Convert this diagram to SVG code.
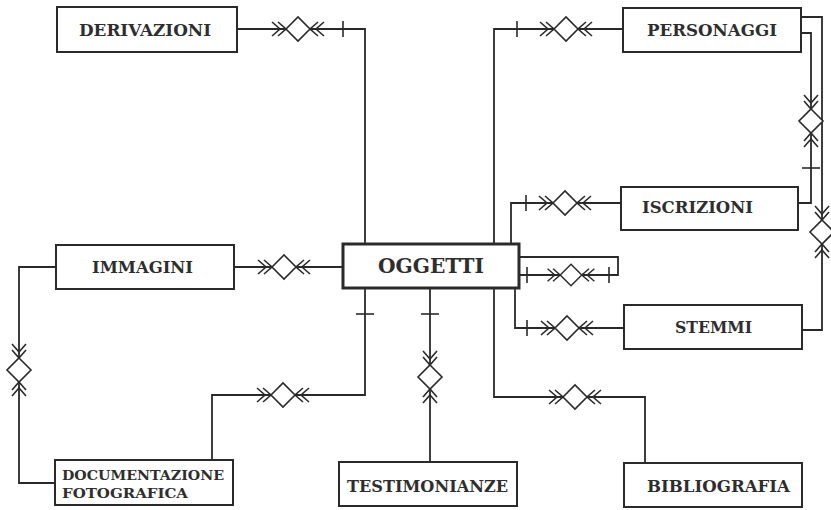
<svg xmlns="http://www.w3.org/2000/svg" xmlns:xlink="http://www.w3.org/1999/xlink" width="831" height="510" viewBox="0 0 831 510">
<style>
.box{fill:#fff;stroke:#2a2a2a;stroke-width:2}
.main{fill:#fff;stroke:#2a2a2a;stroke-width:3}
.lbl{font-family:"DejaVu Serif","Liberation Serif",serif;font-weight:bold;font-size:16px;fill:#2e2e2e}
.conn path{fill:none;stroke:#2a2a2a;stroke-width:1.8}
.sym{fill:none;stroke:#2a2a2a;stroke-width:1.6}
.dia{fill:#fff;stroke:#2a2a2a;stroke-width:1.6}
</style>
<defs>
<g id="rel">
<path class="sym" d="M-20,-7 L-12,0 L-20,7 M-26,-7 L-18,0 L-26,7 M20,-7 L12,0 L20,7 M26,-7 L18,0 L26,7"/>
<path class="dia" d="M-12,0 L0,-12 L12,0 L0,12 Z"/>
</g>
<path id="tv" class="sym" d="M0,-8 V8"/>
<path id="th" class="sym" d="M-9,0 H9"/>
</defs>
<rect width="831" height="510" fill="#fff"/>
<g class="conn" id="connectors">
<path d="M237,29 H365 V244"/>
<path d="M623,29 H494 V244"/>
<path d="M621,203 H511 V244"/>
<path d="M515,288 V328 H624"/>
<path d="M519,257 H618 V275 H519"/>
<path d="M234,267 H343"/>
<path d="M56,267 H19 V483 H55"/>
<path d="M212,460 V395 H365 V288"/>
<path d="M430,288 V462"/>
<path d="M801,33 H811 V203 H798"/>
<path d="M801,17 H822 V330 H802"/>
<path d="M494,288 V397 H645 V463"/>
<use href="#rel" transform="translate(298,29)"/>
<use href="#rel" transform="translate(566,29)"/>
<use href="#rel" transform="translate(565,203)"/>
<use href="#rel" transform="translate(567,328)"/>
<use href="#rel" transform="translate(571,275) scale(0.9)"/>
<use href="#rel" transform="translate(284,267)"/>
<use href="#rel" transform="translate(19,370) rotate(90)"/>
<use href="#rel" transform="translate(283,395)"/>
<use href="#rel" transform="translate(430,377) rotate(90)"/>
<use href="#rel" transform="translate(811,121) rotate(90)"/>
<use href="#rel" transform="translate(822,232) rotate(90)"/>
<use href="#rel" transform="translate(575,397)"/>
<use href="#tv" transform="translate(343,29)"/>
<use href="#tv" transform="translate(517,29)"/>
<use href="#tv" transform="translate(526,203)"/>
<use href="#tv" transform="translate(527,328)"/>
<use href="#tv" transform="translate(527,275)"/>
<use href="#tv" transform="translate(609,275)"/>
<use href="#th" transform="translate(365,314)"/>
<use href="#th" transform="translate(430,314)"/>
<use href="#th" transform="translate(811,168)"/>
</g>
<g id="derivazioni"><rect class="box" x="57" y="7" width="180" height="45"/><text class="lbl" x="79" y="36" textLength="132" lengthAdjust="spacingAndGlyphs">DERIVAZIONI</text></g>
<g id="personaggi"><rect class="box" x="623" y="8" width="178" height="44"/><text class="lbl" x="647" y="36" textLength="130" lengthAdjust="spacingAndGlyphs">PERSONAGGI</text></g>
<g id="iscrizioni"><rect class="box" x="621" y="187" width="177" height="43"/><text class="lbl" x="642" y="213" textLength="111" lengthAdjust="spacingAndGlyphs">ISCRIZIONI</text></g>
<g id="oggetti"><rect class="main" x="343" y="244" width="176" height="44"/><text class="lbl" x="378" y="273" style="font-size:21px" textLength="106" lengthAdjust="spacingAndGlyphs">OGGETTI</text></g>
<g id="stemmi"><rect class="box" x="624" y="305" width="178" height="44"/><text class="lbl" x="675" y="333" textLength="77" lengthAdjust="spacingAndGlyphs">STEMMI</text></g>
<g id="immagini"><rect class="box" x="56" y="245" width="178" height="44"/><text class="lbl" x="92" y="273" textLength="101" lengthAdjust="spacingAndGlyphs">IMMAGINI</text></g>
<g id="documentazione"><rect class="box" x="55" y="460" width="178" height="45"/><text class="lbl" x="62" y="480" style="font-size:13.5px" textLength="162" lengthAdjust="spacingAndGlyphs">DOCUMENTAZIONE</text><text class="lbl" x="62" y="498" style="font-size:13.5px" textLength="126" lengthAdjust="spacingAndGlyphs">FOTOGRAFICA</text></g>
<g id="testimonianze"><rect class="box" x="339" y="462" width="178" height="44"/><text class="lbl" x="347" y="492" textLength="161" lengthAdjust="spacingAndGlyphs">TESTIMONIANZE</text></g>
<g id="bibliografia"><rect class="box" x="624" y="463" width="178" height="44"/><text class="lbl" x="647" y="492" textLength="143" lengthAdjust="spacingAndGlyphs">BIBLIOGRAFIA</text></g>
</svg>
